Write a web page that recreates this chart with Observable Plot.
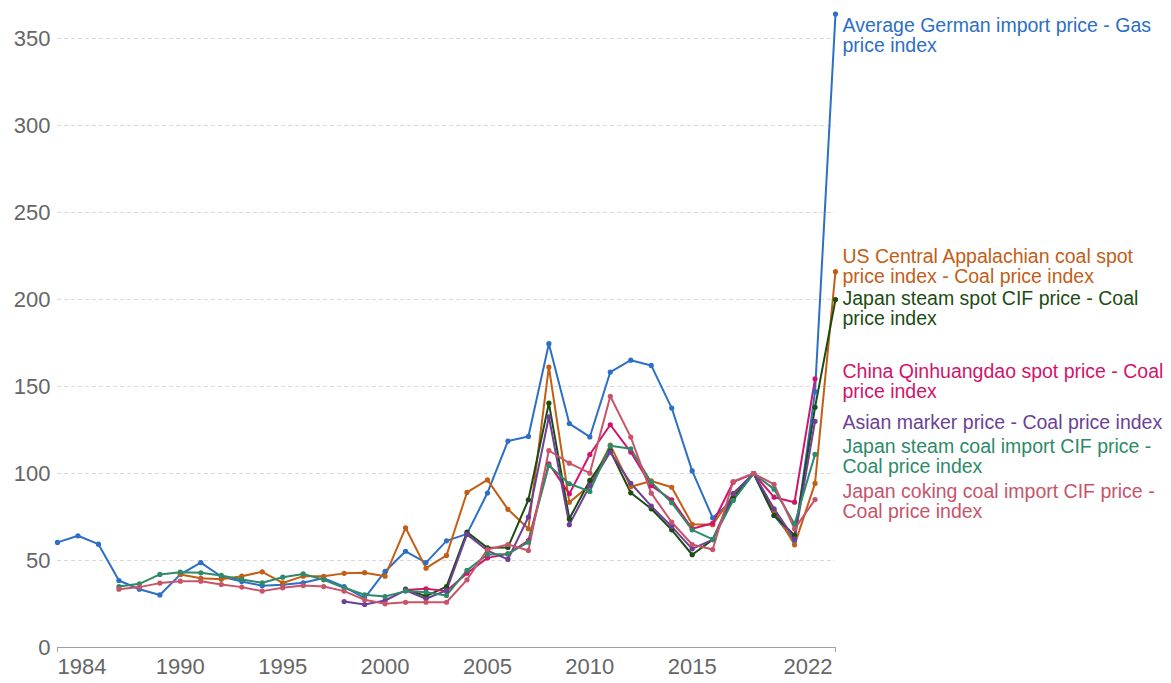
<!DOCTYPE html>
<html>
<head>
<meta charset="utf-8">
<script src="https://cdn.jsdelivr.net/npm/d3@7"></script>
<script src="https://cdn.jsdelivr.net/npm/@observablehq/plot@0.6"></script>
<style>
  html, body { margin: 0; padding: 0; background: #fff; }
  #chart svg { display: block; font-family: "Liberation Sans", Arial, sans-serif; }
</style>
</head>
<body>
<div id="chart"></div>
<script>
// ---- Data (index, 2018 = 100) ----
const seriesNames = [
  "Average German import price - Gas price index",
  "US Central Appalachian coal spot price index - Coal price index",
  "Japan steam spot CIF price - Coal price index",
  "China Qinhuangdao spot price - Coal price index",
  "Asian marker price - Coal price index",
  "Japan steam coal import CIF price - Coal price index",
  "Japan coking coal import CIF price - Coal price index"
];
const seriesColors = ["#2d6fc4", "#c25e16", "#1b4d12", "#d1146b", "#6d3f96", "#2e8a69", "#c8546a"];
const seriesStart = [1984, 1990, 2001, 2001, 1998, 1987, 1987];
const labelLines = [
  "Average German import price - Gas\nprice index",
  "US Central Appalachian coal spot\nprice index - Coal price index",
  "Japan steam spot CIF price - Coal\nprice index",
  "China Qinhuangdao spot price - Coal\nprice index",
  "Asian marker price - Coal price index",
  "Japan steam coal import CIF price -\nCoal price index",
  "Japan coking coal import CIF price -\nCoal price index"
];
const labelY = [362, 229.4, 205, 163.3, 133.8, 120.2, 94.3];

const germanGas = [60.4, 64.2, 59.4, 38.5, 33.5, 30.2, 42, 48.8, 40.8, 37.9, 35.5, 36.1, 37.2, 39.9, 35, 28.4, 43.7, 55.3, 48.8, 61.3, 65.3, 88.8, 118.6, 121.3, 174.6, 128.7, 121, 158.3, 165.1, 162.1, 137.6, 101.5, 74.5, 84.9, 100, 76, 61.3, 147, 364];
const usCapp = [42, 39.8, 39.2, 41, 43.5, 37.1, 41, 40.9, 42.6, 43, 41, 68.8, 45.6, 52.9, 89.1, 96.3, 79.4, 68.3, 161.2, 83.4, 93.2, 116.3, 92.4, 95.7, 92.1, 70.8, 70.6, 87.6, 100, 78.7, 59, 94.3, 216];
const japanSteamSpot = [33.5, 29.5, 35, 66.3, 57.3, 57.5, 84.9, 140.4, 74, 96, 113, 88.9, 79.7, 67.6, 53.3, 62, 86, 100, 75.9, 64.5, 138, 200];
const chinaQhd = [33, 33.7, 32.4, 42.7, 51.5, 53.8, 61.5, 105.6, 88.3, 110.9, 128, 112.3, 93, 84.9, 68.2, 71.4, 95, 100, 86.4, 83.5, 154.4];
const asianMarker = [26.4, 24.7, 27, 32.8, 28, 32.8, 65, 55.7, 50.6, 75, 132.6, 70.6, 93, 112.3, 94.4, 81.2, 69.5, 56.7, 62, 88.5, 100, 79.7, 62.5, 130];
const japanSteamImport = [35, 36.6, 42, 43.3, 42.9, 41.4, 39.1, 37.2, 40.4, 42.3, 38.9, 34.3, 30.3, 29.3, 32.4, 31.8, 29.9, 44.3, 53.4, 53.8, 60.5, 104.6, 94.1, 89.7, 115.9, 114.2, 95, 83.2, 67.6, 62.1, 84.5, 100, 91, 71, 111];
const japanCoking = [33.5, 34.7, 37, 38.1, 38.1, 36.2, 34.7, 32.4, 34.3, 35.6, 35, 32.4, 27.4, 25.1, 26, 26, 26, 38.9, 56.3, 59.2, 55.7, 113.2, 105.9, 100.2, 144.4, 120.9, 88.7, 72, 59.2, 56.3, 95.4, 100, 93.7, 68.2, 85];

const xTicks = [1984, 1990, 1995, 2000, 2005, 2010, 2015, 2022];
const yTicks = [0, 50, 100, 150, 200, 250, 300, 350];

// ---- Build long table ----
const allValues = [germanGas, usCapp, japanSteamSpot, chinaQhd, asianMarker, japanSteamImport, japanCoking];
const rows = [];
allValues.forEach((vals, i) => {
  vals.forEach((v, j) => rows.push({series: seriesNames[i], year: seriesStart[i] + j, value: v}));
});
const lastRows = allValues.map((vals, i) => ({
  series: seriesNames[i],
  year: 2022,
  label: labelLines[i],
  ly: labelY[i]
}));

const font = '"Liberation Sans", Arial, sans-serif';
const firstTick = xTicks[0];
const lastTick = xTicks[xTicks.length - 1];
const midTicks = xTicks.slice(1, -1);

const chart = Plot.plot({
  width: 1171,
  height: 683,
  marginLeft: 57,
  marginRight: 336,
  marginTop: 13.6,
  marginBottom: 36,
  style: {fontFamily: font, background: "#fff", overflow: "visible"},
  x: {domain: [1984, 2022], axis: null, label: null},
  y: {domain: [0, 364], axis: null, label: null},
  color: {domain: seriesNames, range: seriesColors},
  marks: [
    Plot.gridY(yTicks.filter(d => d > 0), {stroke: "#d9d9d9", strokeOpacity: 1, strokeDasharray: "4,3"}),
    Plot.ruleY([0], {stroke: "#a0a0a0", strokeWidth: 1}),
    Plot.axisY({ticks: yTicks, tickSize: 0, tickPadding: 7, fontSize: 22, fill: "#666", anchor: "left", label: null}),
    Plot.axisX({ticks: [firstTick, lastTick], tickSize: 5, stroke: "#a0a0a0", tickFormat: () => "", anchor: "bottom", label: null}),
    Plot.text(midTicks, {x: d => d, y: 0, dy: 19, text: d => String(d), textAnchor: "middle", fontSize: 22, fill: "#666"}),
    Plot.text([firstTick], {x: d => d, y: 0, dy: 19, text: d => String(d), textAnchor: "start", fontSize: 22, fill: "#666"}),
    Plot.text([lastTick], {x: d => d, y: 0, dy: 19, dx: -3, text: d => String(d), textAnchor: "end", fontSize: 22, fill: "#666"}),
    Plot.line(rows, {x: "year", y: "value", z: "series", stroke: "series", strokeWidth: 2}),
    Plot.dot(rows, {x: "year", y: "value", fill: "series", r: 2.6, stroke: "none"}),
    Plot.text(lastRows, {
      x: "year", y: "ly", text: "label", fill: "series",
      textAnchor: "start", lineAnchor: "top", dx: 7,
      fontSize: 19.5, lineHeight: 1.03
    })
  ]
});
document.getElementById("chart").appendChild(chart);
</script>
</body>
</html>
